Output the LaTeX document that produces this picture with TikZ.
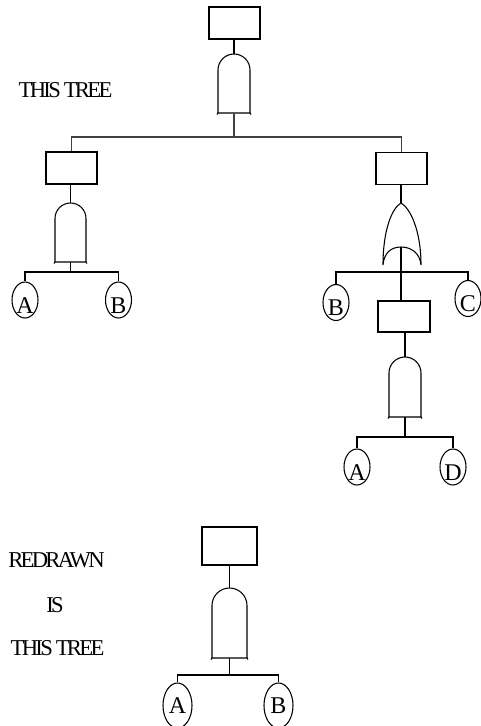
\documentclass[tikz,border=0pt]{standalone}
\usepackage{fontspec}
\setmainfont{Liberation Serif}
\newfontfamily\tightfont[LetterSpace=-12]{Liberation Serif}
\usetikzlibrary{shapes.geometric}
\newcommand\AndGate[4]{%
  \draw (#1-#4,#3) -- (#1-#4,#2+#4) arc[start angle=180,end angle=0,radius=#4*0.75pt] -- (#1+#4,#3);
  \draw (#1-#4-1,#3+1.5) -- (#1-#4,#3) -- (#1+#4,#3) -- (#1+#4+1,#3+1.5);
}
\begin{document}
\begin{tikzpicture}[x=0.75pt,y=-0.75pt,line width=0.8pt,
  evbox/.style={draw,rectangle,inner sep=0pt,minimum width=38.25pt,minimum height=24pt},
  basic/.style={draw,ellipse,inner sep=0pt,minimum width=19.5pt,minimum height=27pt,font=\fontsize{18}{18}\selectfont},
  bigbasic/.style={basic,minimum width=21.75pt,minimum height=33.75pt},
  lbl/.style={font=\tightfont\fontsize{17}{17}\selectfont,inner sep=0pt},
  mainbar/.style={draw=black!75,line width=1.1pt}]
\useasboundingbox (0,0) rectangle (480,726);

% labels
\node[lbl] (t1) at (65.5,90) {THIS TREE};
\node[lbl] (t2) at (56.5,560) {REDRAWN};
\node[lbl] (t3) at (55,605) {IS};
\node[lbl] (t4) at (57.5,648) {THIS TREE};

% ---- top tree ----
\node[evbox] (top) at (234.5,23) {};
\coordinate (g1t) at (234,54);
\coordinate (g1b) at (234,113);
\AndGate{234}{54}{113}{16}
\draw (top.south -| g1t) -- (g1t);
\coordinate (bar1) at (234,137);
\draw[mainbar] (g1b) -- (bar1);

\node[evbox] (L) at (71.5,168) {};
\node[evbox] (R) at (401.5,168.5) {};
\draw[mainbar] (L.north) -- (L.north |- bar1) -- (R.north |- bar1) -- (R.north);

% left subtree
\coordinate (g2t) at (70.5,203);
\coordinate (g2b) at (70.5,262);
\AndGate{70.5}{203}{262}{15.5}
\draw (L.south -| g2t) -- (g2t);
\coordinate (bar2) at (70.5,272);
\draw (g2b) -- (bar2);
\node[basic] (LA) at (25,300) {\raisebox{-10pt}[0pt][0pt]{A}};
\node[basic] (LB) at (118.5,300) {\raisebox{-10pt}[0pt][0pt]{B}};
\draw (LA.north) -- (LA.north |- bar2) -- (LB.north |- bar2) -- (LB.north);

% right subtree (OR gate)
\coordinate (g3t) at (401,203);
\coordinate (g3b) at (401,247);
\draw (R.south -| g3t) -- (g3t);
\draw (g3t) .. controls (392,208) and (383,230) .. (383,265)
      .. controls (384,253) and (391,247) .. (g3b)
      .. controls (411,247) and (420,253) .. (421,265)
      .. controls (421,230) and (410,208) .. (g3t);
\coordinate (bar3) at (401,272);
\node[basic] (RB) at (336,302.5) {\raisebox{-10pt}[0pt][0pt]{B}};
\node[basic] (RC) at (468,298.5) {\raisebox{-10pt}[0pt][0pt]{C}};
\draw (RB.north) -- (RB.north |- bar3) -- (RC.north |- bar3) -- (RC.north);
\node[evbox,minimum width=39pt,minimum height=23.25pt] (RR) at (404,316.5) {};
\draw (g3b) -- (g3b |- RR.north);

% lower right subtree
\coordinate (g4t) at (405,357);
\coordinate (g4b) at (405,417);
\AndGate{405}{357}{417}{16}
\draw (RR.south -| g4t) -- (g4t);
\coordinate (bar4) at (405,437);
\draw (g4b) -- (bar4);
\node[basic] (DA) at (357,467) {\raisebox{-10pt}[0pt][0pt]{A}};
\node[basic] (DD) at (453,467) {\raisebox{-10pt}[0pt][0pt]{D}};
\draw (DA.north) -- (DA.north |- bar4) -- (DD.north |- bar4) -- (DD.north);

% ---- redrawn tree ----
\node[evbox,minimum width=41.25pt,minimum height=28.5pt] (btop) at (229.5,546) {};
\coordinate (g5t) at (229.5,588);
\coordinate (g5b) at (229.5,658);
\AndGate{229.5}{588}{658}{17.5}
\draw (btop.south -| g5t) -- (g5t);
\coordinate (bar5) at (228.5,675);
\draw (g5b) -- (g5b |- bar5);
\node[bigbasic] (BA) at (177.5,705.5) {A};
\node[bigbasic] (BB) at (278.5,705.5) {B};
\draw (BA.north) -- (BA.north |- bar5) -- (BB.north |- bar5) -- (BB.north);
\end{tikzpicture}
\end{document}
